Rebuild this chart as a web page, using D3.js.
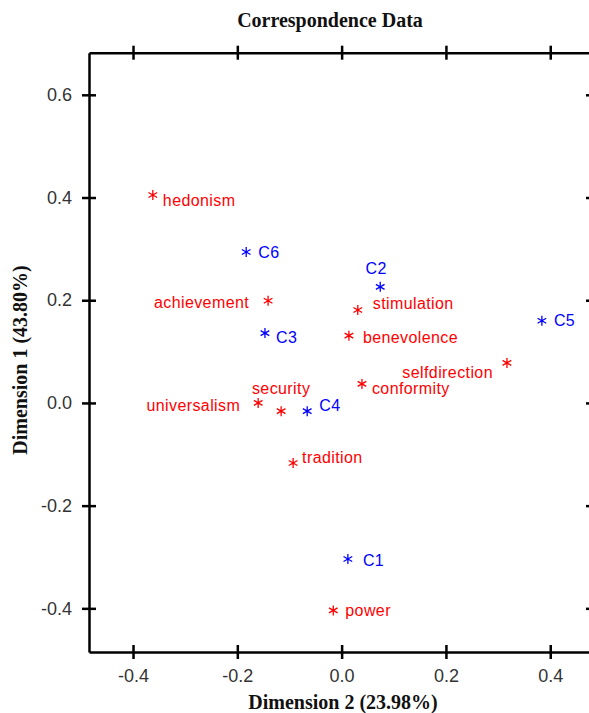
<!DOCTYPE html>
<html lang="en">
<head>
<meta charset="UTF-8">
<title>Correspondence Data</title>
<script src="https://d3js.org/d3.v7.min.js"></script>
<style>
  body { margin: 0; background: #fff; }
  svg { display: block; }
  .tick text { font-family: "Liberation Sans", Arial, sans-serif; font-size: 18px; fill: #333; }
  .pt-label { font-family: "Liberation Sans", Arial, sans-serif; font-size: 16px; letter-spacing: 0.4px; }
  .ttl { font-family: "Liberation Serif", "Times New Roman", serif; font-weight: bold; font-size: 20px; fill: #111; }
</style>
</head>
<body>
<div id="chart"></div>
<script>
// row points (values) and column points (clusters)
const valueNames = ["hedonism", "achievement", "stimulation", "benevolence", "selfdirection",
  "conformity", "security", "universalism", "tradition", "power"];
const valueDim2 = [-0.362, -0.141, 0.031, 0.014, 0.317, 0.039, -0.116, -0.160, -0.093, -0.016];
const valueDim1 = [0.405, 0.199, 0.181, 0.131, 0.078, 0.037, -0.016, 0.000, -0.117, -0.404];

const clusterNames = ["C6", "C3", "C2", "C5", "C4", "C1"];
const clusterDim2 = [-0.183, -0.147, 0.074, 0.384, -0.066, 0.012];
const clusterDim1 = [0.294, 0.136, 0.226, 0.160, -0.016, -0.304];

const xTicks = [-0.4, -0.2, 0.0, 0.2, 0.4];
const yTicks = [-0.4, -0.2, 0.0, 0.2, 0.4, 0.6];

// where each label sits relative to its marker (pixels)
const labelPlace = {
  hedonism: [10, 5, "start"], achievement: [-19, 2, "end"], stimulation: [15, -7, "start"],
  benevolence: [14, 2, "start"], selfdirection: [-14, 10, "end"], conformity: [10, 4, "start"],
  security: [0, -23, "middle"], universalism: [-18, 2, "end"], tradition: [9, -6, "start"],
  power: [12, 0, "start"],
  C6: [12, 0, "start"], C3: [11, 4, "start"], C2: [-4, -18, "middle"], C5: [12, 0, "start"],
  C4: [12, -6, "start"], C1: [15, 1, "start"]
};

const width = 589, height = 713;
const margin = {top: 52.7, right: -4, bottom: 61, left: 89};

const svg = d3.select("#chart").append("svg")
  .attr("width", width)
  .attr("height", height);

const x = d3.scaleLinear()
  .domain([-0.4844, 0.482])
  .range([margin.left, width - margin.right]);

const y = d3.scaleLinear()
  .domain([-0.485, 0.682])
  .range([height - margin.bottom, margin.top]);

function fmt(d) { return d3.format(".1f")(d).replace("−", "-"); }

// axes on all four sides, ticks crossing the line
const axes = [
  {ax: d3.axisBottom(x).tickValues(xTicks).tickFormat(fmt), t: `translate(0,${y.range()[0]})`, lab: true},
  {ax: d3.axisTop(x).tickValues(xTicks).tickFormat(""), t: `translate(0,${y.range()[1]})`},
  {ax: d3.axisLeft(y).tickValues(yTicks).tickFormat(fmt), t: `translate(${x.range()[0]},0)`, lab: true},
  {ax: d3.axisRight(y).tickValues(yTicks).tickFormat(""), t: `translate(${x.range()[1]},0)`}
];
axes.forEach(a => {
  const g = svg.append("g").attr("transform", a.t)
    .call(a.ax.tickSizeInner(7).tickSizeOuter(0).tickPadding(10));
  g.select(".domain").attr("stroke", "#000").attr("stroke-width", 2.5);
  g.selectAll(".tick line").attr("stroke", "#000").attr("stroke-width", 2.5);
  // make ticks cross the axis line
  g.selectAll(".tick line").each(function() {
    const l = d3.select(this);
    if (l.attr("x2") && +l.attr("x2") !== 0) l.attr("x1", -(+l.attr("x2")));
    if (l.attr("y2") && +l.attr("y2") !== 0) l.attr("y1", -(+l.attr("y2")));
  });
  g.selectAll(".tick text").attr("fill", "#333");
});
svg.selectAll(".tick text").style("font-size", "18px");
svg.selectAll("g").filter(function() { return this.getAttribute("font-family"); })
  .attr("font-family", null).attr("font-size", null);

// points
const points = valueNames.map((n, i) => ({name: n, dx: valueDim2[i], dy: valueDim1[i], color: "#ff0000"}))
  .concat(clusterNames.map((n, i) => ({name: n, dx: clusterDim2[i], dy: clusterDim1[i], color: "#0000ff"})));

const star = d3.symbol().type(d3.symbolAsterisk).size(70);

const pg = svg.append("g").selectAll("g")
  .data(points)
  .join("g")
  .attr("transform", d => `translate(${x(d.dx)},${y(d.dy)})`);

pg.append("path")
  .attr("d", star)
  .attr("fill", "none")
  .attr("stroke", d => d.color)
  .attr("stroke-width", 1.3);

pg.append("text")
  .attr("class", "pt-label")
  .attr("x", d => labelPlace[d.name][0])
  .attr("y", d => labelPlace[d.name][1])
  .attr("dy", "0.35em")
  .attr("text-anchor", d => labelPlace[d.name][2])
  .attr("fill", d => d.color)
  .text(d => d.name);

// titles
svg.append("text").attr("class", "ttl")
  .attr("x", 330).attr("y", 27)
  .attr("text-anchor", "middle")
  .text("Correspondence Data");

svg.append("text").attr("class", "ttl")
  .attr("x", 343).attr("y", 709)
  .attr("text-anchor", "middle")
  .text("Dimension 2 (23.98%)");

svg.append("text").attr("class", "ttl")
  .attr("transform", "translate(27,360) rotate(-90)")
  .attr("text-anchor", "middle")
  .text("Dimension 1 (43.80%)");
</script>
</body>
</html>
